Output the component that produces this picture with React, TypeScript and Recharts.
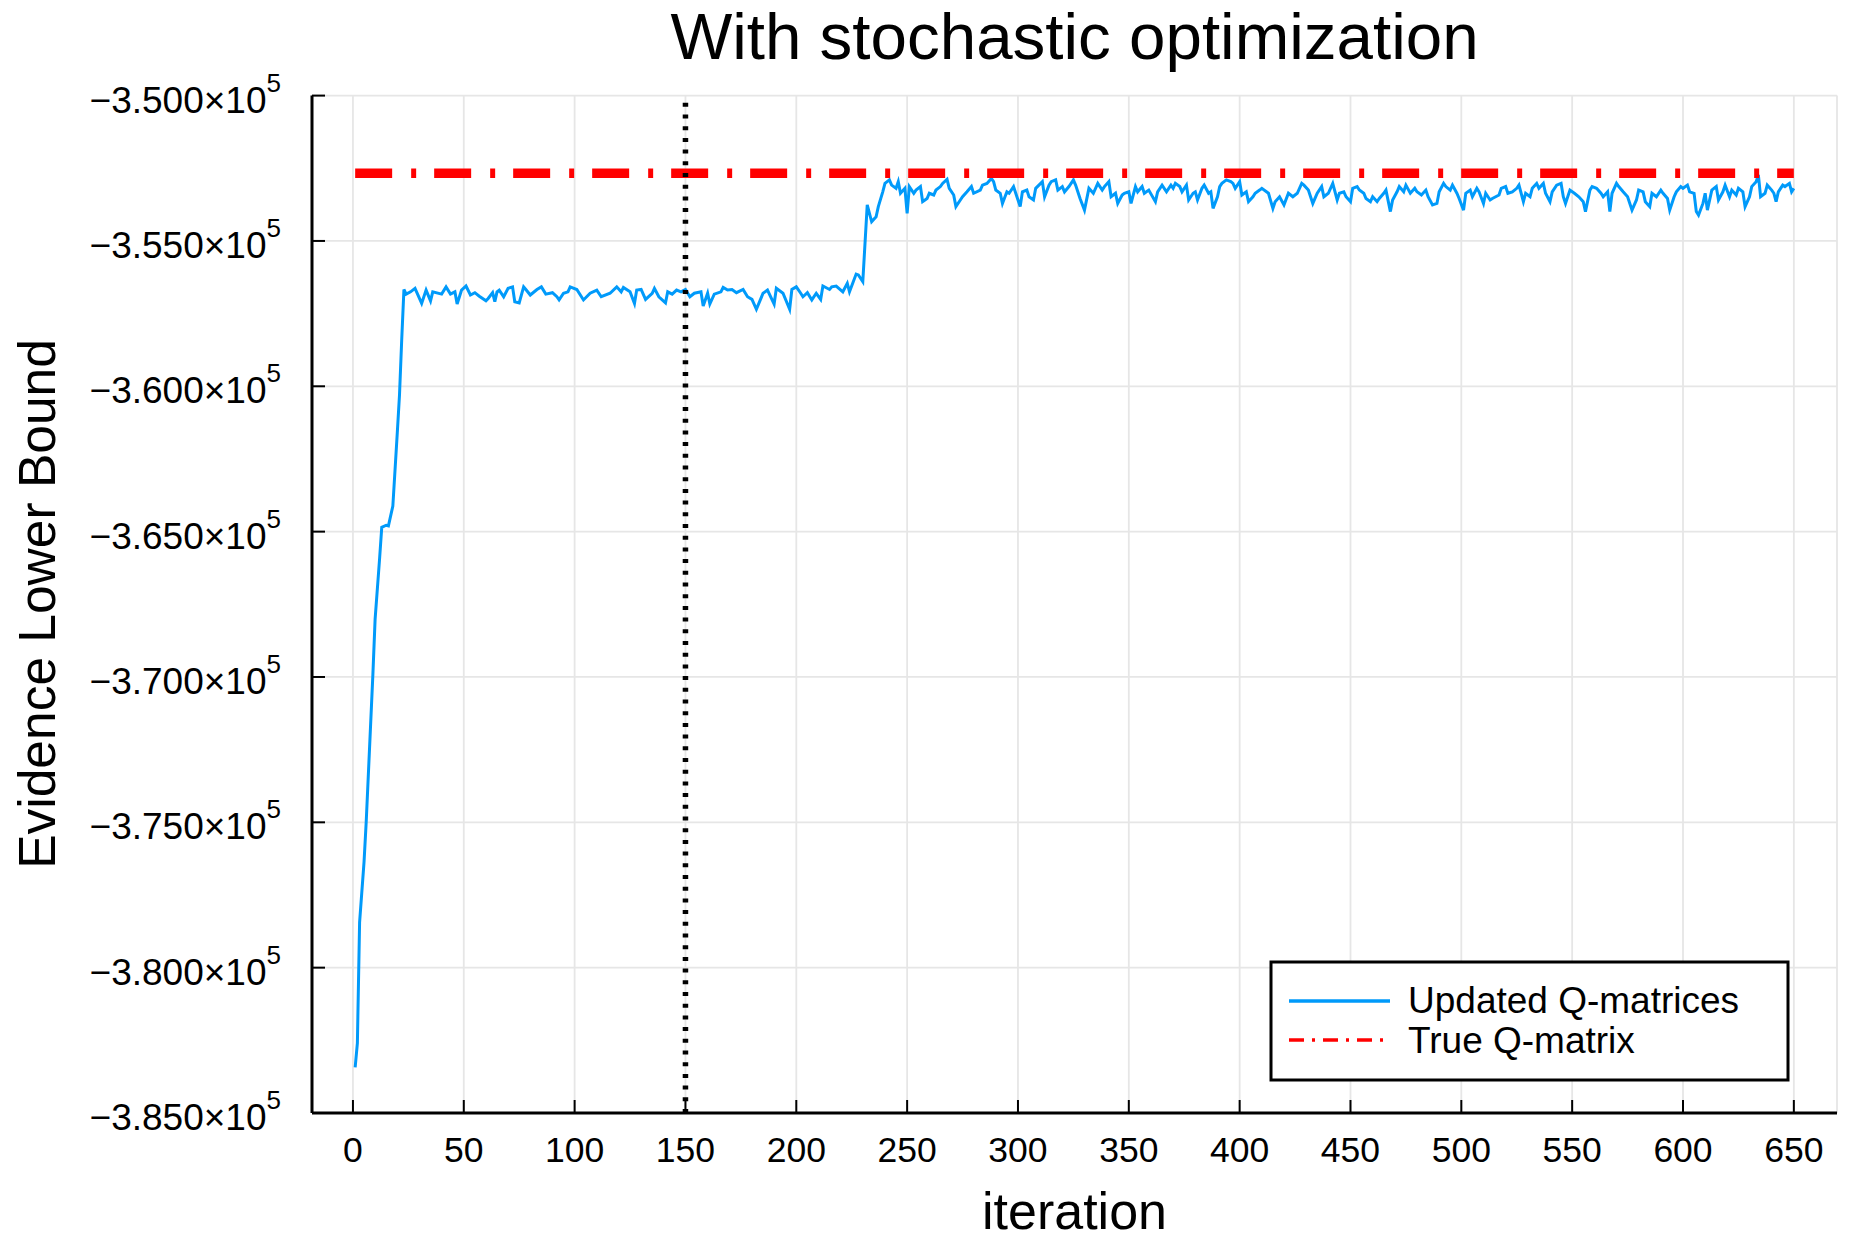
import { LineChart, Line, XAxis, YAxis, CartesianGrid, ReferenceLine, Customized } from 'recharts';

// ELBO values are in units of 10^3 (so -352.67 means -3.5267×10^5)
const WARMUP: [number, number][] = [
  [1, -383.43], [2, -382.6], [3, -378.44], [5, -376.37], [6, -374.96], [9, -369.9],
  [10, -368.01], [12, -365.95], [13, -364.85], [15, -364.78], [16, -364.8], [18, -364.12],
  [20, -361.6], [21, -360.3], [22, -358.4], [23, -356.67],
];

const FIRST_PLATEAU: [number, number][] = [
  [24, -356.83], [26, -356.75], [28, -356.63], [31, -357.15], [33, -356.69], [35, -357.06],
  [36, -356.75], [40, -356.83], [42, -356.58], [44, -356.83], [46, -356.75], [47, -357.17],
  [49, -356.69], [51, -356.55], [53, -356.86], [55, -356.78], [57, -356.9], [60, -357.06],
  [61, -356.98], [63, -356.78], [64, -357.09], [65, -356.75], [66, -356.69], [68, -356.92],
  [70, -356.63], [72, -356.58], [73, -357.09], [75, -357.13], [77, -356.58], [78, -356.67],
  [80, -356.86], [83, -356.67], [85, -356.58], [87, -356.83], [90, -356.78], [92, -356.92],
  [93, -357.03], [95, -356.8], [97, -356.75], [98, -356.58], [101, -356.67], [104, -357.03],
  [107, -356.8], [110, -356.69], [112, -356.92], [116, -356.8], [119, -356.58], [121, -356.75],
  [122, -356.6], [125, -356.75], [127, -357.15], [128, -356.69], [130, -356.67], [132, -357.01],
  [135, -356.8], [136, -356.63], [138, -356.92], [141, -357.13], [142, -356.75], [144, -356.83],
  [146, -356.69], [148, -356.75], [150, -356.67], [152, -356.92], [154, -356.8], [157, -356.75],
  [158, -357.24], [160, -356.8], [161, -357.17], [163, -356.83], [166, -356.75], [167, -356.6],
  [169, -356.69], [171, -356.67], [173, -356.78], [176, -356.67], [178, -356.92], [180, -357.01],
  [182, -357.35], [185, -356.8], [187, -356.69], [190, -357.17], [191, -356.63], [194, -356.8],
  [197, -357.35], [198, -356.67], [200, -356.58], [202, -356.8], [203, -356.92], [205, -356.78],
  [207, -357.03], [209, -356.8], [211, -357.01], [212, -356.55], [215, -356.67], [216, -356.58],
  [218, -356.55], [221, -356.75], [223, -356.46], [224, -356.75], [227, -356.14], [228, -356.17],
  [230, -356.4],
];

const SECOND_PLATEAU: [number, number][] = [
  [232, -353.76], [234, -354.34], [236, -354.17], [237, -353.82], [239, -353.31], [240, -353.02],
  [242, -352.9], [243, -353.08], [245, -353.19], [246, -352.96], [247, -353.36], [249, -353.19],
  [250, -354.05], [251, -353.13], [253, -353.36], [254, -353.25], [256, -353.13], [257, -353.65],
  [259, -353.54], [260, -353.36], [262, -353.42], [263, -353.25], [265, -353.13], [266, -353.02],
  [268, -352.88], [269, -353.19], [271, -353.42], [272, -353.82], [274, -353.59], [275, -353.48],
  [277, -353.31], [279, -353.13], [280, -353.36], [283, -353.25], [284, -353.08], [286, -353.02],
  [288, -352.85], [289, -352.96], [290, -353.25], [292, -353.36], [293, -353.71], [295, -353.31],
  [296, -353.36], [298, -353.13], [299, -353.36], [301, -353.82], [302, -353.31], [304, -353.25],
  [305, -353.48], [307, -353.59], [308, -353.19], [311, -352.96], [312, -353.48], [314, -353.08],
  [315, -352.96], [317, -352.9], [318, -353.25], [320, -353.13], [321, -353.31], [323, -353.13],
  [325, -352.9], [326, -353.08], [328, -353.54], [330, -353.94], [332, -353.19], [334, -353.36],
  [336, -353.02], [338, -353.25], [339, -353.13], [341, -352.96], [342, -353.48], [344, -353.36],
  [345, -353.71], [347, -353.42], [348, -353.36], [350, -353.31], [351, -353.71], [353, -353.13],
  [354, -353.31], [356, -353.13], [357, -353.36], [359, -353.25], [362, -353.65], [363, -353.31],
  [365, -353.08], [367, -353.31], [369, -353.08], [370, -353.19], [371, -353.02], [373, -353.13],
  [374, -353.31], [376, -353.08], [377, -353.59], [379, -353.36], [380, -353.31], [381, -353.59],
  [383, -353.19], [384, -353.08], [386, -353.36], [387, -353.31], [388, -353.88], [390, -353.48],
  [391, -353.13], [392, -353.02], [394, -352.9], [396, -352.96], [397, -353.02], [398, -353.19],
  [400, -352.96], [401, -353.42], [403, -353.31], [404, -353.65], [406, -353.48], [407, -353.36],
  [409, -353.25], [410, -353.19], [413, -353.36], [415, -353.88], [416, -353.65], [418, -353.48],
  [420, -353.76], [422, -353.36], [424, -353.48], [426, -353.36], [428, -353.02], [429, -353.08],
  [431, -353.25], [433, -353.71], [435, -353.36], [437, -353.13], [438, -353.48], [440, -353.36],
  [442, -353.02], [444, -353.59], [445, -353.36], [447, -353.31], [448, -353.48], [450, -353.65],
  [451, -353.19], [453, -353.13], [454, -353.25], [456, -353.36], [457, -353.54], [459, -353.65],
  [460, -353.48], [462, -353.65], [463, -353.54], [465, -353.36], [466, -353.25], [468, -353.99],
  [469, -353.59], [471, -353.31], [472, -353.13], [474, -353.31], [475, -353.08], [477, -353.36],
  [479, -353.19], [480, -353.31], [482, -353.42], [484, -353.25], [485, -353.48], [487, -353.76],
  [489, -353.71], [490, -353.31], [492, -353.02], [493, -353.13], [495, -353.25], [496, -353.08],
  [498, -353.36], [499, -353.54], [501, -353.94], [502, -353.36], [504, -353.25], [505, -353.48],
  [507, -353.19], [508, -353.31], [510, -353.71], [511, -353.36], [513, -353.59], [514, -353.54],
  [517, -353.42], [518, -353.19], [520, -353.13], [521, -353.36], [523, -353.31], [525, -353.19],
  [526, -353.08], [528, -353.65], [529, -353.36], [531, -353.48], [532, -353.19], [534, -353.02],
  [535, -353.19], [537, -353.02], [538, -353.36], [540, -353.65], [541, -353.31], [543, -353.08],
  [545, -353.02], [546, -353.48], [547, -353.71], [549, -353.25], [551, -353.36], [553, -353.48],
  [555, -353.65], [556, -353.99], [558, -353.25], [559, -353.13], [561, -353.19], [563, -353.36],
  [564, -353.48], [566, -353.31], [567, -353.99], [568, -353.36], [570, -353.02], [571, -353.13],
  [573, -353.31], [575, -353.48], [577, -353.94], [579, -353.59], [580, -353.25], [582, -353.31],
  [583, -353.65], [585, -353.82], [586, -353.36], [588, -353.48], [590, -353.25], [591, -353.36],
  [593, -353.54], [594, -353.94], [596, -353.48], [597, -353.31], [599, -353.13], [600, -353.19],
  [602, -353.08], [603, -353.31], [605, -353.36], [606, -353.99], [607, -354.11], [609, -353.71],
  [610, -353.36], [611, -353.94], [613, -353.25], [615, -353.13], [616, -353.59], [618, -353.31],
  [619, -353.08], [621, -353.48], [622, -353.25], [624, -353.42], [625, -353.19], [627, -353.31],
  [628, -353.82], [630, -353.48], [631, -353.13], [633, -352.96], [634, -352.73], [635, -353.48],
  [637, -353.36], [638, -353.08], [640, -353.25], [641, -353.36], [642, -353.65], [643, -353.31],
  [645, -353.08], [646, -353.13], [648, -353.02], [649, -353.31], [650, -353.19],
];

const TRUE_ELBO = -352.67;
const TRUE_SPAN = [1, 650];
const SWITCH_ITERATION = 150;

const X_TICKS = [0, 50, 100, 150, 200, 250, 300, 350, 400, 450, 500, 550, 600, 650];
const Y_TICKS = [-385, -380, -375, -370, -365, -360, -355, -350];

const SERIES_NAMES = ['Updated Q-matrices', 'True Q-matrix'];
const TITLE = 'With stochastic optimization';
const X_LABEL = 'iteration';
const Y_LABEL = 'Evidence Lower Bound';

const FONT = '"Liberation Sans", Arial, Helvetica, sans-serif';
const BLUE = '#009AFA';
const RED = '#FF0000';

const elboData = [...WARMUP, ...FIRST_PLATEAU, ...SECOND_PLATEAU].map(([iteration, elbo]) => ({ iteration, elbo }));
const trueData = TRUE_SPAN.map((iteration) => ({ iteration, elbo: TRUE_ELBO }));

function YTick({ x, y, payload }: any) {
  const mantissa = (payload.value / 100).toFixed(3).replace('-', '\u2212');
  return (
    <g>
      <line x1={x} y1={y} x2={x + 13} y2={y} stroke="#000" strokeWidth={2} />
      <text x={x - 31} y={y + 17} textAnchor="end" fontSize={37} fontFamily={FONT} fill="#000">
        {mantissa}×10
        <tspan dy={-21} fontSize={26}>5</tspan>
      </text>
    </g>
  );
}

function XTick({ x, y, payload }: any) {
  return (
    <g>
      <line x1={x} y1={y} x2={x} y2={y - 13} stroke="#000" strokeWidth={2} />
      <text x={x} y={y + 49} textAnchor="middle" fontSize={35.5} fontFamily={FONT} fill="#000">
        {payload.value}
      </text>
    </g>
  );
}

function Decorations() {
  return (
    <g fontFamily={FONT} fill="#000">
      <text x={1074.5} y={59} textAnchor="middle" fontSize={65.5}>{TITLE}</text>
      <text x={1074.5} y={1229} textAnchor="middle" fontSize={52}>{X_LABEL}</text>
      <text x={55} y={604} textAnchor="middle" fontSize={51.5} transform="rotate(-90 55 604)">{Y_LABEL}</text>
      <rect x={1271} y={962} width={517} height={118} fill="#fff" stroke="#000" strokeWidth={3} />
      <line x1={1289} y1={1001} x2={1390} y2={1001} stroke={BLUE} strokeWidth={3.5} />
      <line x1={1289} y1={1040} x2={1390} y2={1040} stroke={RED} strokeWidth={3.5} strokeDasharray="15 8 3 8" />
      <text x={1408} y={1013} fontSize={37}>{SERIES_NAMES[0]}</text>
      <text x={1408} y={1053} fontSize={37}>{SERIES_NAMES[1]}</text>
    </g>
  );
}

export default function App() {
  return (
    <div style={{ position: 'absolute', left: 0, top: 0, width: 1875, height: 1250, background: '#fff' }}>
      <LineChart
        width={1875}
        height={1250}
        data={elboData}
        margin={{ top: 95.6, right: 38, bottom: 0, left: 0 }}
      >
        <CartesianGrid stroke="#e6e6e6" strokeWidth={1.8} />
        <XAxis
          type="number"
          dataKey="iteration"
          domain={[-18.47, 669.47]}
          ticks={X_TICKS}
          interval={0}
          allowDataOverflow
          height={137}
          tickSize={0}
          tickMargin={0}
          tickLine={false}
          axisLine={{ stroke: '#000', strokeWidth: 3 }}
          tick={<XTick />}
        />
        <YAxis
          type="number"
          domain={[-385, -350]}
          ticks={Y_TICKS}
          interval={0}
          allowDataOverflow
          width={312}
          tickSize={0}
          tickMargin={0}
          tickLine={false}
          axisLine={{ stroke: '#000', strokeWidth: 3 }}
          tick={<YTick />}
        />
        <Line
          type="linear"
          dataKey="elbo"
          name={SERIES_NAMES[0]}
          stroke={BLUE}
          strokeWidth={3}
          dot={false}
          isAnimationActive={false}
        />
        <Line
          type="linear"
          data={trueData}
          dataKey="elbo"
          name={SERIES_NAMES[1]}
          stroke={RED}
          strokeWidth={9.5}
          strokeDasharray="37 19 5 18"
          dot={false}
          isAnimationActive={false}
        />
        <ReferenceLine
          x={SWITCH_ITERATION}
          stroke="#000"
          strokeWidth={5.5}
          strokeDasharray="4 7.7"
          ifOverflow="visible"
        />
        <Customized component={Decorations} />
      </LineChart>
    </div>
  );
}
